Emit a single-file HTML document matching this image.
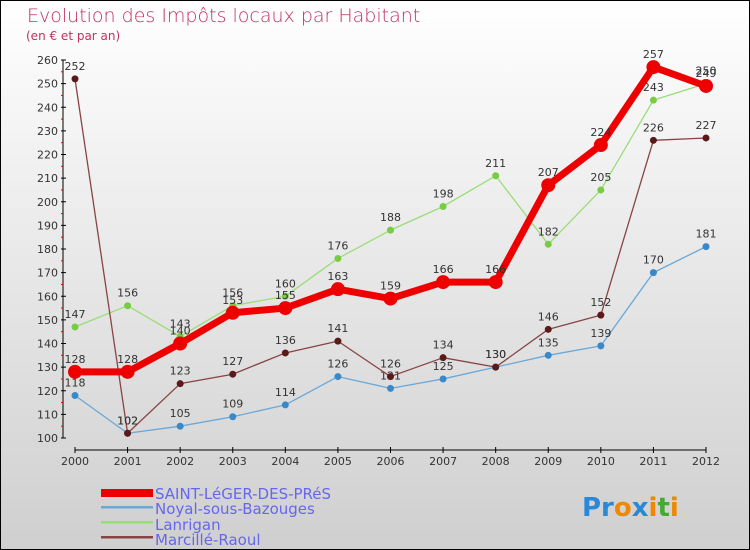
<!DOCTYPE html>
<html><head><meta charset="utf-8"><style>
body{margin:0;}
#c{width:750px;height:550px;position:relative;overflow:hidden;background:linear-gradient(#ffffff,#cfcfcf);font-family:"DejaVu Sans","Liberation Sans",sans-serif;}
</style></head><body>
<div id="c">
<svg id="s" width="750" height="550">
<rect x="0.5" y="0.5" width="749" height="549" fill="none" stroke="#000"/>
<text x="27" y="22" font-size="19" fill="#c0325e" font-weight="200">Evolution des Impôts locaux par Habitant</text>
<text x="26" y="40" font-size="12" fill="#c0325e">(en € et par an)</text>
<g id="axes"></g><g id="series"></g>
<g font-size="15" fill="#6666ee">
<rect x="101" y="489" width="52" height="8" fill="#ee0000"/>
<text x="155" y="499">SAINT-LéGER-DES-PRéS</text>
<rect x="101" y="506" width="52" height="2.5" fill="#6aa8d8"/>
<text x="155" y="514">Noyal-sous-Bazouges</text>
<rect x="101" y="521" width="52" height="2.5" fill="#99dd77"/>
<text x="155" y="530">Lanrigan</text>
<rect x="101" y="536" width="52" height="2.5" fill="#884444"/>
<text x="155" y="545">Marcillé-Raoul</text>
</g>
<text x="582" y="516" font-size="26" font-weight="bold"><tspan fill="#2a88d8">Pr</tspan><tspan fill="#ee8800">o</tspan><tspan fill="#2a88d8">x</tspan><tspan fill="#ee8800">i</tspan><tspan fill="#44aa33">t</tspan><tspan fill="#ee8800">i</tspan></text>
</svg></div>
<script>
const years=[2000,2001,2002,2003,2004,2005,2006,2007,2008,2009,2010,2011,2012];
const yTicks=[100,110,120,130,140,150,160,170,180,190,200,210,220,230,240,250,260];
const saint=[128,128,140,153,155,163,159,166,166,207,224,257,249];
const noyal=[118,102,105,109,114,126,121,125,130,135,139,170,181];
const lanrigan=[147,156,143,156,160,176,188,198,211,182,205,243,250];
const marcille=[252,102,123,127,136,141,126,134,130,146,152,226,227];
const NS='http://www.w3.org/2000/svg';
const X=i=>75+i*(706-75)/(years.length-1);
const Y=v=>438-(v-100)*(438-60)/160;
function mk(t,a,p){const e=document.createElementNS(NS,t);for(const k in a)e.setAttribute(k,a[k]);p.appendChild(e);return e;}
const ax=document.getElementById('axes');
let e=mk('line',{x1:63,y1:Y(260),x2:63,y2:Y(100),stroke:'#000'},ax);


e=mk('line',{x1:75,y1:450,x2:706,y2:450,stroke:'#000'},ax);


yTicks.forEach(v=>{
 mk('line',{x1:61,x2:66,y1:Y(v),y2:Y(v),stroke:'#000'},ax);
 mk('line',{x1:61,x2:63,y1:Y(v+5),y2:Y(v+5),stroke:'#e00'},ax).style.display=v<260?'':'none';
 const t=mk('text',{x:58,y:Y(v)+4,'font-size':11,fill:'#333','text-anchor':'end'},ax);t.textContent=v;
 
 
});
years.forEach((y,i)=>{
 mk('line',{x1:X(i),x2:X(i),y1:447,y2:453,stroke:'#000'},ax);
 const t=mk('text',{x:X(i),y:465,'font-size':11,fill:'#333','text-anchor':'middle'},ax);t.textContent=y;
 
 
});
const sg=document.getElementById('series');
function draw(data,color,w,r,name,dot){
 const g=mk('g',{},sg);
 
 
 mk('polyline',{points:data.map((v,i)=>X(i)+','+Y(v)).join(' '),fill:'none',stroke:color,'stroke-width':w,'stroke-linejoin':'round'},g);
 data.forEach((v,i)=>{
  const c=mk('circle',{cx:X(i),cy:Y(v),r:r,fill:dot},g);
  
  
  const t=mk('text',{x:X(i),y:Y(v)-9,'font-size':11,fill:'#333','text-anchor':'middle'},g);t.textContent=v;
 });
}
draw(noyal,'#6aa8d8',1.3,3.5,'noyal','#3a88c8');
draw(lanrigan,'#99dd77',1.3,3.5,'lanrigan','#77cc44');
draw(marcille,'#884444',1.3,3.5,'marcille','#5a1a1a');
draw(saint,'#ee0000',7,7,'saint','#ee0000');
</script>
</body></html>
